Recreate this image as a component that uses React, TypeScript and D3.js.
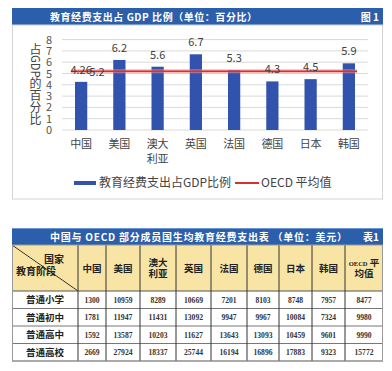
import React from 'react';
import * as d3 from 'd3';

// chart: share of GDP spent on education
const countries = ['中国', '美国', '澳大利亚', '英国', '法国', '德国', '日本', '韩国'];
const countryLines = [['中国'], ['美国'], ['澳大', '利亚'], ['英国'], ['法国'], ['德国'], ['日本'], ['韩国']];
const gdpShare = [4.26, 6.2, 5.6, 6.7, 5.3, 4.3, 4.5, 5.9];
const oecdAvg = 5.2;
const yTicks = [0, 1, 2, 3, 4, 5, 6, 7, 8];
const yTitle = ['占', 'GDP', '的', '百', '分', '比'];

// table: spending per student (USD)
const tableCols = [['中国'], ['美国'], ['澳大', '利亚'], ['英国'], ['法国'], ['德国'], ['日本'], ['韩国'], ['OECD 平', '均值']];
const stages = ['普通小学', '普通初中', '普通高中', '普通高校'];
const primary = [1300, 10959, 8289, 10669, 7201, 8103, 8748, 7957, 8477];
const lowerSecondary = [1781, 11947, 11431, 13092, 9947, 9967, 10084, 7324, 9980];
const upperSecondary = [1592, 13587, 10203, 11627, 13643, 13093, 10459, 9601, 9990];
const tertiary = [2669, 27924, 18337, 25744, 16194, 16896, 17883, 9323, 15772];

const W = 392, H = 371;
const BLUE = '#2c5fab';
const BAR = '#3153ad';
const RED = '#d9302c';
const CJK = '"Noto Sans CJK SC", "Noto Sans", sans-serif';
const NUM = '"Liberation Serif", "DejaVu Serif", serif';

function BarChart() {
    const x = d3.scaleBand().domain(countries).range([62, 368]).paddingInner(0.68).paddingOuter(0.34);
    const y = d3.scaleLinear().domain([0, 8]).range([130, 39.6]);
    const bw = x.bandwidth();
    const line = d3.line<number>().x(d => d).y(() => y(oecdAvg));
    const lx0 = (x(countries[0]) as number) - 4;
    const lx1 = (x(countries[countries.length - 1]) as number) + bw + 2;
    // stacked vertical axis title: CJK upright, latin turned sideways
    let ty = 43;
    const titleParts = yTitle.map(p => {
        const len = p.length > 1 ? p.length * 7.6 : 12;
        const part = { p, y: ty, len };
        ty += len;
        return part;
    });
    return (
        <g>
            <rect x={12} y={8} width={371} height={17} fill={BLUE} />
            <text x={50} y={20.5} fill="#fff" fontFamily={CJK} fontWeight="bold" fontSize={10}
                textLength={207} lengthAdjust="spacing">教育经费支出占 GDP 比例（单位：百分比）</text>
            <text x={379} y={20.5} fill="#fff" fontFamily={CJK} fontWeight="bold" fontSize={10} textAnchor="end">图 1</text>
            <rect x={12.5} y={25} width={370} height={174} fill="#fff" stroke="#d4d4d4" />
            {yTicks.map(t => (
                <g key={t}>
                    <line x1={62} x2={368} y1={y(t)} y2={y(t)} stroke="#d9d9d9" />
                    <text x={49} y={y(t) + 4} textAnchor="middle" fontSize={11} fill="#555" fontFamily={CJK}>{t}</text>
                </g>
            ))}
            {titleParts.map(({ p, y: py, len }) => p.length > 1 ? (
                <text key={p} transform={`translate(31,${py}) rotate(90)`} fontSize={12} fill="#444" fontFamily={CJK}
                    textLength={len} lengthAdjust="spacingAndGlyphs">{p}</text>
            ) : (
                <text key={p} x={35.5} y={py + 10.5} textAnchor="middle" fontSize={12} fill="#444" fontFamily={CJK}>{p}</text>
            ))}
            {countries.map((c, i) => (
                <rect key={c} x={x(c)} y={y(gdpShare[i])} width={bw} height={y(0) - y(gdpShare[i])} fill={BAR} />
            ))}
            <path d={line([lx0, lx1]) || ''} stroke="#f08a88" strokeOpacity={0.6} strokeWidth={4} fill="none" />
            <path d={line([lx0, lx1]) || ''} stroke={RED} strokeWidth={1.6} fill="none" />
            {countries.map((c, i) => (
                <text key={c} x={(x(c) as number) + bw / 2} y={y(gdpShare[i]) - 8} textAnchor="middle"
                    fontSize={11} fill="#404040" fontFamily={CJK}>{gdpShare[i]}</text>
            ))}
            <text x={lx0 + 26} y={y(oecdAvg) + 4.5} textAnchor="middle" fontSize={11} fill="#404040" fontFamily={CJK}>{oecdAvg}</text>
            {countryLines.map((ls, i) => ls.map((l, j) => (
                <text key={i + '-' + j} x={(x(countries[i]) as number) + bw / 2} y={148 + j * 15} textAnchor="middle"
                    fontSize={11} fill="#444" fontFamily={CJK}>{l}</text>
            )))}
            <rect x={74} y={181} width={22} height={4} fill={BAR} />
            <text x={99} y={187} fontSize={12} fill="#444" fontFamily={CJK}>教育经费支出占GDP比例</text>
            <line x1={235} x2={259} y1={183} y2={183} stroke={RED} strokeWidth={2} />
            <text x={261} y={187} fontSize={12} fill="#444" fontFamily={CJK}>OECD 平均值</text>
        </g>
    );
}

function SpendTable() {
    const rows = [primary, lowerSecondary, upperSecondary, tertiary];
    const colEdges = [12, 78, 106, 140, 176, 211, 247, 279, 312, 345, 383];
    const rowY = d3.scaleBand().domain(stages).range([291, 361]);
    const rh = rowY.bandwidth();
    const top = 245, headBottom = 291;
    return (
        <g>
            <rect x={12} y={228} width={371} height={17} fill={BLUE} />
            <line x1={12} x2={383} y1={228.5} y2={228.5} stroke="#6d95cf" />
            <text x={50} y={240.5} fill="#fff" fontFamily={CJK} fontWeight="bold" fontSize={10}
                textLength={297} lengthAdjust="spacing">中国与 OECD 部分成员国生均教育经费支出表 （单位：美元）</text>
            <text x={379} y={240.5} fill="#fff" fontFamily={CJK} fontWeight="bold" fontSize={10} textAnchor="end">表1</text>
            <rect x={12} y={top} width={371} height={headBottom - top} fill="#f8e5a5" />
            <rect x={12} y={headBottom} width={371} height={70} fill="#fff" />
            <line x1={12} y1={top} x2={78} y2={headBottom} stroke="#333" strokeWidth={1} />
            <text x={64} y={262.5} textAnchor="end" fontSize={10} fontWeight="bold" fill="#222" fontFamily={CJK}>国家</text>
            <text x={16} y={275} fontSize={10} fontWeight="bold" fill="#222" fontFamily={CJK}>教育阶段</text>
            {tableCols.map((ls, i) => {
                const cx = (colEdges[i + 1] + colEdges[i + 2]) / 2;
                const y0 = ls.length > 1 ? 265.5 : 272;
                return ls.map((l, j) => l.startsWith('OECD') ? (
                    <text key={i + '-' + j} x={cx} y={y0 + j * 11} textAnchor="middle" fontWeight="bold" fill="#222" fontFamily={CJK}>
                        <tspan fontSize={6.5} fontFamily={NUM}>OECD</tspan>
                        <tspan fontSize={9.5}> 平</tspan>
                    </text>
                ) : (
                    <text key={i + '-' + j} x={cx} y={y0 + j * 11} textAnchor="middle" fontSize={9.5}
                        fontWeight="bold" fill="#222" fontFamily={CJK}>{l}</text>
                ));
            })}
            {stages.map((s, r) => (
                <g key={s}>
                    <text x={45} y={(rowY(s) as number) + rh / 2 + 3.5} textAnchor="middle" fontSize={9.5} fontWeight="bold"
                        fill="#222" fontFamily={CJK}>{s}</text>
                    {rows[r].map((v, i) => (
                        <text key={i} x={(colEdges[i + 1] + colEdges[i + 2]) / 2} y={(rowY(s) as number) + rh / 2 + 3}
                            textAnchor="middle" fontSize={8.5} fontWeight="bold" fill="#333" fontFamily={NUM}
                            textLength={String(v).length * 3.8} lengthAdjust="spacingAndGlyphs">{v}</text>
                    ))}
                    <line x1={12} x2={383} y1={(rowY(s) as number) + rh} y2={(rowY(s) as number) + rh} stroke="#777" />
                </g>
            ))}
            <line x1={12} x2={383} y1={headBottom} y2={headBottom} stroke="#555" />
            {colEdges.slice(1, -1).map(cx => (
                <line key={cx} x1={cx} x2={cx} y1={top} y2={361} stroke="#333" />
            ))}
            <rect x={12.5} y={top} width={370} height={361 - top} fill="none" stroke="#999" />
        </g>
    );
}

export default function App() {
    return (
        <svg width={W} height={H} style={{ position: 'absolute', left: 0, top: 0, background: '#fff' }}>
            <BarChart />
            <SpendTable />
        </svg>
    );
}
